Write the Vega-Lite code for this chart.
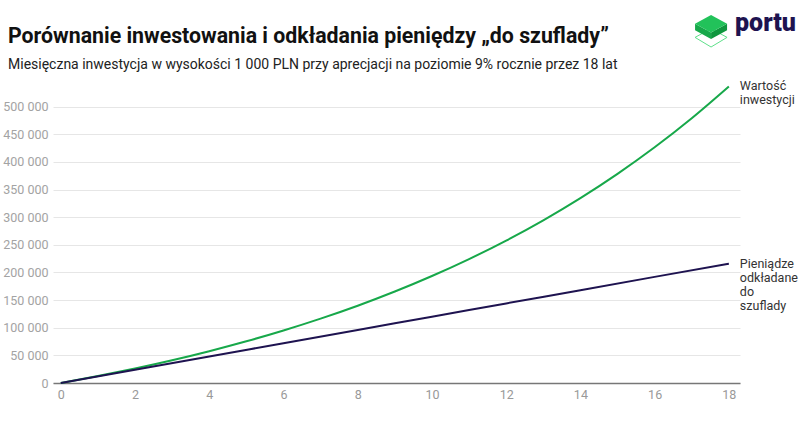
{
  "$schema": "https://vega.github.io/schema/vega-lite/v6.json",
  "width": 687,
  "height": 304,
  "autosize": {"type": "none"},
  "padding": {"left": 53, "top": 79, "right": 60, "bottom": 63},
  "background": "white",
  "title": {
    "text": "Porównanie inwestowania i odkładania pieniędzy „do szuflady”",
    "subtitle": "Miesięczna inwestycja w wysokości 1 000 PLN przy aprecjacji na poziomie 9% rocznie przez 18 lat",
    "anchor": "start",
    "frame": "group",
    "dx": -45,
    "offset": -61,
    "font": "Roboto",
    "fontSize": 21.3,
    "fontWeight": "bold",
    "color": "#111111",
    "subtitleFont": "Roboto",
    "subtitleFontSize": 14,
    "subtitleColor": "#222222",
    "subtitlePadding": 11
  },
  "config": {
    "view": {"stroke": null},
    "font": "Roboto",
    "locale": {
      "number": {"decimal": ",", "thousands": " ", "grouping": [3], "currency": ["", " zł"]}
    }
  },
  "datasets": {
    "series": [
      {"rok": 0, "wartosc": 0, "seria": "Wartość inwestycji"},
      {"rok": 1, "wartosc": 12508, "seria": "Wartość inwestycji"},
      {"rok": 2, "wartosc": 26188, "seria": "Wartość inwestycji"},
      {"rok": 3, "wartosc": 41153, "seria": "Wartość inwestycji"},
      {"rok": 4, "wartosc": 57523, "seria": "Wartość inwestycji"},
      {"rok": 5, "wartosc": 75428, "seria": "Wartość inwestycji"},
      {"rok": 6, "wartosc": 95013, "seria": "Wartość inwestycji"},
      {"rok": 7, "wartosc": 116436, "seria": "Wartość inwestycji"},
      {"rok": 8, "wartosc": 139869, "seria": "Wartość inwestycji"},
      {"rok": 9, "wartosc": 165500, "seria": "Wartość inwestycji"},
      {"rok": 10, "wartosc": 193535, "seria": "Wartość inwestycji"},
      {"rok": 11, "wartosc": 224201, "seria": "Wartość inwestycji"},
      {"rok": 12, "wartosc": 257744, "seria": "Wartość inwestycji"},
      {"rok": 13, "wartosc": 294433, "seria": "Wartość inwestycji"},
      {"rok": 14, "wartosc": 334564, "seria": "Wartość inwestycji"},
      {"rok": 15, "wartosc": 378461, "seria": "Wartość inwestycji"},
      {"rok": 16, "wartosc": 426476, "seria": "Wartość inwestycji"},
      {"rok": 17, "wartosc": 478996, "seria": "Wartość inwestycji"},
      {"rok": 18, "wartosc": 536433, "seria": "Wartość inwestycji"},
      {"rok": 0, "wartosc": 0, "seria": "Pieniądze odkładane do szuflady"},
      {"rok": 2, "wartosc": 24000, "seria": "Pieniądze odkładane do szuflady"},
      {"rok": 4, "wartosc": 48000, "seria": "Pieniądze odkładane do szuflady"},
      {"rok": 6, "wartosc": 72000, "seria": "Pieniądze odkładane do szuflady"},
      {"rok": 8, "wartosc": 96000, "seria": "Pieniądze odkładane do szuflady"},
      {"rok": 10, "wartosc": 120000, "seria": "Pieniądze odkładane do szuflady"},
      {"rok": 12, "wartosc": 144000, "seria": "Pieniądze odkładane do szuflady"},
      {"rok": 14, "wartosc": 168000, "seria": "Pieniądze odkładane do szuflady"},
      {"rok": 16, "wartosc": 192000, "seria": "Pieniądze odkładane do szuflady"},
      {"rok": 18, "wartosc": 216000, "seria": "Pieniądze odkładane do szuflady"}
    ],
    "labels": [
      {"rok": 18, "wartosc": 536433, "etykieta": ["Wartość", "inwestycji"]},
      {"rok": 18, "wartosc": 216000, "etykieta": ["Pieniądze", "odkładane", "do", "szuflady"]}
    ],
    "logo": [
      {"rok": 17.52, "wartosc": 636842, "nazwa": "portu"}
    ]
  },
  "layer": [
    {
      "data": {"name": "series"},
      "mark": {"type": "line", "strokeWidth": 2, "interpolate": "monotone"},
      "encoding": {
        "x": {
          "field": "rok",
          "type": "quantitative",
          "scale": {"domain": [-0.21, 18.3], "nice": false},
          "axis": {
            "title": null,
            "values": [0, 2, 4, 6, 8, 10, 12, 14, 16, 18],
            "tickCount": 20,
            "grid": false,
            "ticks": false,
            "domainColor": "#777777",
            "domainWidth": 1.5,
            "labelColor": "#999999",
            "labelFontSize": 12.5,
            "labelPadding": 5,
            "labelOverlap": false
          }
        },
        "y": {
          "field": "wartosc",
          "type": "quantitative",
          "scale": {"domain": [0, 550000], "nice": false},
          "axis": {
            "title": null,
            "values": [0, 50000, 100000, 150000, 200000, 250000, 300000, 350000, 400000, 450000, 500000],
            "tickCount": 20,
            "format": ",d",
            "domain": false,
            "ticks": false,
            "gridColor": "#e6e6e6",
            "gridWidth": 1,
            "labelColor": "#a3a3a3",
            "labelFontSize": 12.5,
            "labelPadding": 5,
            "labelOverlap": false
          }
        },
        "color": {
          "field": "seria",
          "type": "nominal",
          "scale": {
            "domain": ["Wartość inwestycji", "Pieniądze odkładane do szuflady"],
            "range": ["#17a84a", "#1e1350"]
          },
          "legend": null
        }
      }
    },
    {
      "data": {"name": "labels"},
      "mark": {
        "type": "text",
        "align": "left",
        "baseline": "top",
        "dx": 11,
        "dy": -6,
        "fontSize": 12.5,
        "lineHeight": 14,
        "color": "#333333"
      },
      "encoding": {
        "x": {"field": "rok", "type": "quantitative"},
        "y": {"field": "wartosc", "type": "quantitative"},
        "text": {"field": "etykieta"}
      }
    },
    {
      "data": {"name": "logo"},
      "mark": {
        "type": "point",
        "shape": "M -1 0.4 L 0 -0.15 L 1 0.4 L 0 1 Z",
        "filled": false,
        "stroke": "#5ee08a",
        "strokeWidth": 1,
        "size": 1024,
        "opacity": 1
      },
      "encoding": {
        "x": {"field": "rok", "type": "quantitative"},
        "y": {"field": "wartosc", "type": "quantitative"}
      }
    },
    {
      "data": {"name": "logo"},
      "mark": {
        "type": "point",
        "shape": "M -1 -0.45 L 0 0.1 L 0 0.5 L -1 -0.05 Z",
        "filled": true,
        "color": "#17a84a",
        "size": 1024,
        "opacity": 1
      },
      "encoding": {
        "x": {"field": "rok", "type": "quantitative"},
        "y": {"field": "wartosc", "type": "quantitative"}
      }
    },
    {
      "data": {"name": "logo"},
      "mark": {
        "type": "point",
        "shape": "M 0 0.1 L 1 -0.45 L 1 -0.05 L 0 0.5 Z",
        "filled": true,
        "color": "#0f963e",
        "size": 1024,
        "opacity": 1
      },
      "encoding": {
        "x": {"field": "rok", "type": "quantitative"},
        "y": {"field": "wartosc", "type": "quantitative"}
      }
    },
    {
      "data": {"name": "logo"},
      "mark": {
        "type": "point",
        "shape": "M -1 -0.45 L 0 -1 L 1 -0.45 L 0 0.1 Z",
        "filled": true,
        "color": "#22c25a",
        "size": 1024,
        "opacity": 1
      },
      "encoding": {
        "x": {"field": "rok", "type": "quantitative"},
        "y": {"field": "wartosc", "type": "quantitative"}
      }
    },
    {
      "data": {"name": "logo"},
      "mark": {
        "type": "text",
        "align": "left",
        "baseline": "alphabetic",
        "dx": 24,
        "fontSize": 25,
        "fontWeight": 900,
        "color": "#1e1350"
      },
      "encoding": {
        "x": {"field": "rok", "type": "quantitative"},
        "y": {"field": "wartosc", "type": "quantitative"},
        "text": {"field": "nazwa"}
      }
    }
  ]
}
